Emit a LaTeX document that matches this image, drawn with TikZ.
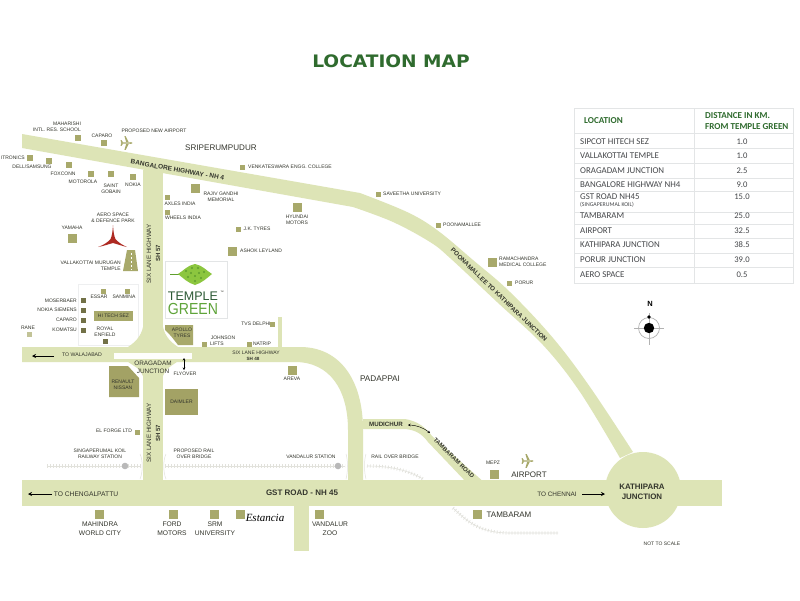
\documentclass[tikz,border=0pt]{standalone}
\usepackage{fontspec}
\setmainfont{Liberation Sans}
\newfontfamily\tblfont{Carlito}
\newfontfamily\estfont{Liberation Serif}
\newfontfamily\titlefont{DejaVu Sans}
\usetikzlibrary{arrows.meta}
\definecolor{roadc}{HTML}{DDE4B6}
\definecolor{sqc}{HTML}{A8A96B}
\definecolor{darkb}{HTML}{A3A265}
\definecolor{txt}{HTML}{33352C}
\definecolor{titleg}{HTML}{2F6B2E}
\definecolor{logod}{HTML}{2C5A35}
\definecolor{logol}{HTML}{5FA43A}
\definecolor{leafc}{HTML}{8CC63F}
\definecolor{leafd}{HTML}{5F9E2E}
\definecolor{railc}{HTML}{E2E2DC}
\definecolor{rowc}{HTML}{E3E5E6}
\definecolor{redc}{HTML}{AE2A22}
\definecolor{tbltxt}{HTML}{45474A}
\newcommand{\fs}[1]{\fontsize{#1}{#1}\selectfont}
\tikzset{
  lbl/.style={inner sep=0pt,text=txt,font=\fs{5},align=center},
  lbll/.style={lbl,anchor=west},
  lblr/.style={lbl,anchor=east},
  big/.style={inner sep=0pt,text=txt,font=\fs{8}},
  sq/.style={fill=sqc,draw=none,minimum size=5pt,inner sep=0pt},
  sqb/.style={fill=sqc,draw=none,minimum size=9pt,inner sep=0pt},
  rail/.style={draw=railc,line width=3.4pt,dash pattern=on 0.7pt off 2.3pt},
  railc2/.style={draw=railc,line width=0.6pt},
  railb/.style={draw=railc,line width=0.5pt},
  arrowk/.style={draw=black,line width=0.9pt,-{Stealth[length=4pt,width=4pt]}},
  dblarrow/.style={draw=black,line width=0.45pt,{Stealth[length=2.5pt,width=2.5pt]}-{Stealth[length=2.5pt,width=2.5pt]}},
  cell/.style={inner sep=0pt,text=tbltxt,font=\tblfont\fs{8.9},anchor=west},
  val/.style={inner sep=0pt,text=tbltxt,font=\tblfont\fs{8.6}},
  head/.style={inner sep=0pt,text=titleg,font=\tblfont\bfseries\fs{9.1},anchor=west},
  botlbl/.style={lbl,font=\fs{6.7},align=center},
}
\newcommand{\planeicon}[3]{% x y colour
  \begin{scope}[shift={(#1,#2)},scale=0.85]
    \fill[#3] (-7,-0.7) -- (5,-0.9) .. controls (7,-0.7) and (7,0.7) .. (5,0.9) -- (-7,0.7) -- cycle;
    \fill[#3] (-1,-1) -- (2,-1) -- (-1.5,-8) -- (-3,-8) -- cycle;
    \fill[#3] (-1,1) -- (2,1) -- (-1.5,8) -- (-3,8) -- cycle;
    \fill[#3] (-7,-0.5) -- (-4.5,-0.5) -- (-6.5,-3.5) -- (-7.5,-3.5) -- cycle;
    \fill[#3] (-7,0.5) -- (-4.5,0.5) -- (-6.5,3.5) -- (-7.5,3.5) -- cycle;
  \end{scope}}
\begin{document}
\begin{tikzpicture}[x=1pt,y=-1pt]
\useasboundingbox (0,0) rectangle (800,600);
\fill[white] (0,0) rectangle (800,600);

% title
\node[inner sep=0pt,text=titleg,font=\titlefont\bfseries\fs{17.2},xscale=1.08] (title) at (391,61.5) {LOCATION MAP};

% ---- rail lines
\foreach \st in {rail,railc2}{
  \draw[\st] (47,466) -- (141,466);
  \draw[\st] (165,466) -- (345,466);
  \draw[\st] (367,466) .. controls (390,466) and (408,470) .. (423,479);
  \draw[\st] (453,508) .. controls (468,522) and (480,533) .. (510,533) -- (558,533);
}
\draw[railb] (140,454) .. controls (143,460) and (143,472) .. (140,479);
\draw[railb] (166,454) .. controls (163,460) and (163,472) .. (166,479);
\draw[railb] (346,454) .. controls (348,460) and (348,472) .. (346,479);
\draw[railb] (366,454) .. controls (364,460) and (364,472) .. (366,479);

% ---- hi tech background
\fill[white,draw=rowc!60,line width=0.4pt] (78,284) rectangle (138,345);

% ---- roads
\fill[roadc] (22,134) -- (360,193)
  -- plot[smooth,tension=0.6] coordinates {(360,193) (407,212) (437,230) (473,260) (510,292) (553,338) (590,387) (633,452)}
  -- plot[smooth,tension=0.6] coordinates {(620,458) (580,392) (543,345) (497,302) (450,258) (430,242) (393,222) (353,207)}
  -- (22,148) -- cycle;
\fill[roadc] (143,170) rectangle (163,490);
% junction bulge and six lane road
\fill[roadc] (143,327) .. controls (141,337) and (134,343) .. (128,347) -- (22,347) -- (22,362) -- (128,362)
  .. controls (134,366) and (141,369) .. (143,376) -- (163,376)
  .. controls (165,369) and (171,366) .. (177,362) -- (295,362)
  .. controls (330,362) and (348,390) .. (348,430) -- (348,490) -- (363,490) -- (363,430)
  .. controls (363,380) and (340,347) .. (300,347) -- (178,347)
  .. controls (172,343) and (165,337) .. (163,327) -- cycle;
% small stub
\fill[roadc] (278,317) rectangle (282,348);
% GST road
\fill[roadc] (22,480) rectangle (722,506);
\fill[roadc] (294,500) rectangle (309,551);
\fill[roadc] (643,490) circle[radius=38];
% Tambaram road
\fill[roadc] (363,419) -- (405,419) .. controls (418,421) and (426,428) .. (432,436) -- (486,484) -- (468,484)
  -- (428,442) .. controls (422,434) and (416,430) .. (405,429) -- (363,429) -- cycle;
% flyover
\fill[white!96!roadc] (114,353) rectangle (192,359);

% ---- highway labels
\node[lbl,font=\bfseries\fs{6.5},rotate=-10] (bh) at (177.5,170) {BANGALORE HIGHWAY - NH 4};
\node[lbl,font=\bfseries\fs{6.3},rotate=-44] (pk) at (499,295) {POONAMALLEE TO KATHIPARA JUNCTION};
\node[lbl,font=\fs{6.3},rotate=90] (sl1) at (149,254) {SIX LANE HIGHWAY};
\node[lbl,font=\bfseries\fs{6},rotate=90] (sh1) at (158,253) {SH 57};
\node[lbl,font=\fs{6.3},rotate=90] (sl2) at (149,433) {SIX LANE HIGHWAY};
\node[lbl,font=\bfseries\fs{6},rotate=90] (sh2) at (158,433) {SH 57};
\node[lbl] (sl3) at (256,353) {SIX LANE HIGHWAY};
\node[lbl,font=\bfseries\fs{4.6}] (sh3) at (253,359) {SH 48};
\node[lbl,font=\fs{5.2}] (toW) at (82,355) {TO WALAJABAD};
\node[lbl,font=\fs{6.4},align=center] (ora) at (153,367.5) {ORAGADAM\\[1.2pt]JUNCTION};
\node[lbl,font=\fs{6.7}] (toC) at (86,494) {TO CHENGALPATTU};
\node[lbl,font=\bfseries\fs{8}] (gst) at (302,493) {GST ROAD - NH 45};
\node[lbl,font=\fs{6.4}] (toCh) at (557,494) {TO CHENNAI};
\node[lbl,font=\bfseries\fs{7.9},align=center] (kat) at (642,492) {KATHIPARA\\[2.5pt]JUNCTION};
\node[lbl,font=\bfseries\fs{6.2}] (mud) at (386,424) {MUDICHUR};
\node[lbl,font=\bfseries\fs{6},rotate=-44] (tam) at (454,458) {TAMBARAM ROAD};

% ---- arrows
\coordinate (a1s) at (54,356); \coordinate (a1e) at (32,356);
\draw[arrowk] (a1s) -- (a1e);
\coordinate (a2s) at (52,494); \coordinate (a2e) at (28,494);
\draw[arrowk] (a2s) -- (a2e);
\coordinate (a3s) at (582,494); \coordinate (a3e) at (605,494);
\draw[arrowk] (a3s) -- (a3e);
\coordinate (a4s) at (184,358); \coordinate (a4e) at (184,370);
\draw[dblarrow] (a4s) -- (a4e);
\coordinate (a5s) at (408,425); \coordinate (a5e) at (430,433);
\draw[dblarrow] (a5s) .. controls (416,425) and (424,428) .. (a5e);

% ---- top-left labels
\node[lbl] (l1) at (67,124) {MAHARISHI};
\node[lbl] (l2) at (57,130) {INTL. RES. SCHOOL};
\node[sq,minimum size=5.5pt] (s1) at (78,138) {};
\node[lbl] (l3) at (102,136) {CAPARO};
\node[sq,minimum size=5.5pt] (s2) at (104,143) {};
\node[lbl] (l4) at (154,131) {PROPOSED NEW AIRPORT};
\planeicon{127}{143}{sqc}
\node[big,font=\fs{8.1}] (sri) at (221,148) {SRIPERUMPUDUR};
\node[lblr] (l5) at (25,158) {ITRONICS};
\node[sq,minimum size=5.5pt] (s3) at (30,158) {};
\node[sq,minimum size=5.5pt] (s4) at (49,161) {};
\node[lbl] (l6) at (32,167) {DELL/SAMSUNG};
\node[sq,minimum size=5.5pt] (s5) at (69,165) {};
\node[lbl] (l7) at (63,174) {FOXCONN};
\node[sq,minimum size=5.5pt] (s6) at (91,174) {};
\node[lbl] (l8) at (83,182) {MOTOROLA};
\node[sq,minimum size=5.5pt] (s7) at (111,174) {};
\node[lbl,align=center] (l9) at (111,189) {SAINT\\[1pt]GOBAIN};
\node[sq,minimum size=5.5pt] (s8) at (133,177) {};
\node[lbl] (l10) at (133,185) {NOKIA};
\node[sq] (s9) at (242,167) {};
\node[lbll] (l11) at (248,167) {VENKATESWARA ENGG. COLLEGE};
\node[sqb] (s10) at (195,188) {};
\node[lbl,align=center] (l12) at (221,196.5) {RAJIV GANDHI\\[1.2pt]MEMORIAL};
\node[sq] (s11) at (167,197) {};
\node[lbl] (l13) at (180,204) {AXLES INDIA};
\node[sq] (s12) at (167,212) {};
\node[lbl] (l14) at (183,218) {WHEELS INDIA};
\node[sq] (s13) at (238,229) {};
\node[lbl] (l15) at (257,229) {J.K. TYRES};
\node[lbl,align=center] (l16) at (113,218) {AERO SPACE\\[1pt]\& DEFENCE PARK};
\node[lbl] (l17) at (72,228) {YAMAHA};
\node[sqb] (s14) at (72,238) {};

% red emblem
\fill[redc] (113,225) .. controls (113.5,232) and (114,236) .. (115.5,239) .. controls (118,242) and (122,245) .. (127,247) .. controls (122,246) and (117,244) .. (113,243) .. controls (109,244) and (104,246) .. (98,247) .. controls (104,245) and (108,242) .. (110.5,239) .. controls (112,236) and (112.5,232) .. (113,225) -- cycle;
% temple icon
\fill[sqc] (127,250) -- (135,250) -- (138,271) -- (123,271) -- cycle;
\draw[white,line width=0.7pt,dash pattern=on 2pt off 2pt] (131,253) -- (131,270);
\node[lbl,align=right,anchor=east] (l18) at (121,265.5) {VALLAKOTTAI MURUGAN\\[1pt]TEMPLE};

% hi tech
\node[sq] (s15) at (103,291) {};
\node[lbl] (l19) at (99,297) {ESSAR};
\node[sq] (s16) at (127,291) {};
\node[lbl] (l20) at (124,297) {SANMINA};
\node[lblr] (l21) at (77,301) {MOSERBAER};
\node[sq,fill=darkb!70!black] (s17) at (83,300) {};
\node[lblr] (l22) at (77,310) {NOKIA SIEMENS};
\node[sq,fill=darkb!70!black] (s18) at (83,310) {};
\node[lblr] (l23) at (77,320) {CAPARO};
\node[sq,fill=darkb!70!black] (s19) at (83,320) {};
\node[lblr] (l24) at (77,330) {KOMATSU};
\node[sq,fill=darkb!70!black] (s20) at (83,330) {};
\node[lbl] (l25) at (28,328) {RANE};
\node[sq,fill=sqc!70] (s21) at (29,334) {};
\node[fill=sqc,inner sep=0pt,minimum width=39pt,minimum height=10pt,text=txt,font=\fs{5}] (hit) at (113.5,316) {HI TECH SEZ};
\node[lbl,align=center] (l26) at (105,332) {ROYAL\\[1pt]ENFIELD};
\node[sq,fill=darkb!70!black] (s22) at (105,341) {};

% logo
\node[draw=rowc,line width=0.6pt,fill=white,minimum width=62pt,minimum height=57pt,inner sep=0pt] (logo) at (196,289.5) {};
\coordinate (stem) at (170,274);
\draw[leafd,line width=0.5pt] (stem) -- (186,274);
\fill[leafc] (178,274) .. controls (183,271) and (188,265) .. (195,264) .. controls (202,265) and (207,271) .. (212,274) .. controls (207,278) and (202,283) .. (195,285) .. controls (188,283) and (183,278) .. (178,274) -- cycle;
\foreach \p/\q in {186/271,192/268,198/268,204/272,188/277,195/276,201/278,195/281,191/273,199/273}{
  \fill[leafd] (\p,\q) circle[radius=1.1];
}
\node[inner sep=0pt,text=logod,font=\fs{12.5}] (tmp) at (193,296) {TEMPLE};
\node[inner sep=0pt,text=logol,font=\fs{16},xscale=0.88] (grn) at (193,308.5) {GREEN};
\node[inner sep=0pt,text=txt,font=\fs{3.5}] (tm) at (222,292) {™};

% middle labels
\fill[sqc] (165,325) -- (193,325) -- (193,345) -- (178,345) .. controls (174,340) and (170,334) .. (165,330) -- cycle;
\node[lbl,align=center] (apo) at (182,332.5) {APOLLO\\[1pt]TYRES};
\node[sqb] (s23) at (232,251) {};
\node[lbll] (l27) at (240,251) {ASHOK LEYLAND};
\node[lbl] (l28) at (256,324) {TVS DELPHI};
\node[sq] (s24) at (272,324) {};
\node[lbl] (l29) at (223,338) {JOHNSON};
\node[lbl] (l30) at (217,344) {LIFTS};
\node[sq] (s25) at (204,344) {};
\node[sq] (s26) at (249,344) {};
\node[lbl] (l31) at (262,344) {NATRIP};
\node[lbl] (l32) at (185,374) {FLYOVER};
\fill[darkb] (109,366) -- (128,366) -- (139,378) -- (139,397) -- (109,397) -- cycle;
\node[lbl,align=center] (ren) at (123,384.5) {RENAULT\\[1pt]NISSAN};
\node[fill=darkb,minimum width=33pt,minimum height=26pt,inner sep=0pt,text=txt,font=\fs{5}] (dai) at (181.5,402) {DAIMLER};
\node[lbl] (l33) at (114,431) {EL FORGE LTD};
\node[sq] (s27) at (137,432) {};
\node[lbl,align=center] (l34) at (100,453.5) {SINGAPERUMAL KOIL\\[1pt]RAILWAY STATION};
\fill[gray!55] (125,466) circle[radius=3.3];
\fill[gray!55] (338,466) circle[radius=3.3];
\node[lbl,align=center] (l35) at (194,454) {PROPOSED RAIL\\[1pt]OVER BRIDGE};
\node[lbl] (l36) at (311,457) {VANDALUR STATION};
\node[lbl] (l37) at (395,457) {RAIL OVER BRIDGE};

% bottom
\node[sqb] (s28) at (99,514) {};
\node[botlbl] (l38) at (100,528.5) {MAHINDRA\\[2pt]WORLD CITY};
\node[sqb] (s29) at (173,514) {};
\node[botlbl] (l39) at (172,528.5) {FORD\\[2pt]MOTORS};
\node[sqb] (s30) at (214,514) {};
\node[botlbl] (l40) at (215,528.5) {SRM\\[2pt]UNIVERSITY};
\node[sqb] (s31) at (240,514) {};
\node[inner sep=0pt,text=black,font=\estfont\itshape\fs{11}] (est) at (265,518) {Estancia};
\node[sqb] (s32) at (319,514) {};
\node[botlbl] (l41) at (330,528.5) {VANDALUR\\[2pt]ZOO};

% right labels
\node[sqb] (s33) at (292,370) {};
\node[lbl] (l42) at (292,379) {AREVA};
\node[big,font=\fs{8.2}] (pad) at (380,379) {PADAPPAI};
\node[sqb] (s34) at (297,207) {};
\node[lbl,align=center] (l43) at (297,219.5) {HYUNDAI\\[1pt]MOTORS};
\node[sq] (s35) at (378,194) {};
\node[lbll] (l44) at (383,194) {SAVEETHA UNIVERSITY};
\node[sq] (s36) at (438,225) {};
\node[lbll] (l45) at (443,225) {POONAMALLEE};
\node[sqb] (s37) at (492,262) {};
\node[lbll,align=left] (l46) at (499,261.5) {RAMACHANDRA\\[1.2pt]MEDICAL COLLEGE};
\node[sq] (s38) at (509,283) {};
\node[lbll] (l47) at (515,283) {PORUR};
\node[lbl] (l48) at (493,463) {MEPZ};
\node[sqb] (s39) at (494,474) {};
\planeicon{528}{461}{sqc}
\node[big] (air) at (529,475) {AIRPORT};
\node[sqb] (s40) at (477,514) {};
\node[big] (tbm) at (509,515) {TAMBARAM};
\node[lbl] (nts) at (662,544) {NOT TO SCALE};

% compass
\draw[gray!60,line width=0.7pt] (649,328) circle[radius=10.5];
\draw[gray!60,line width=0.6pt] (634,328) -- (664,328);
\draw[gray!60,line width=0.6pt] (649,313) -- (649,345);
\fill[black] (649,328) circle[radius=5.2];
\fill[black] (649,317) circle[radius=1.8];
\node[inner sep=0pt,text=black,font=\bfseries\fs{7.5}] (north) at (650,304) {N};

% table
\draw[rowc,line width=0.7pt] (574,108) rectangle (793,283);
\draw[rowc,line width=0.7pt] (694,108) -- (694,283);
\foreach \yy in {133,148,163,178,191,212,224,238,253,267}{
  \draw[rowc,line width=0.7pt] (574,\yy) -- (793,\yy);
}
\node[head] (t0) at (584,121) {LOCATION};
\node[head] (t00) at (705,116) {DISTANCE IN KM.};
\node[head] (t01) at (705,127) {FROM TEMPLE GREEN};
\node[cell] (t1) at (580,141.5) {SIPCOT HITECH SEZ};
\node[val] (v1) at (742,141.5) {1.0};
\node[cell] (t2) at (580,156) {VALLAKOTTAI TEMPLE};
\node[val] (v2) at (742,156) {1.0};
\node[cell] (t3) at (580,171) {ORAGADAM JUNCTION};
\node[val] (v3) at (742,171) {2.5};
\node[cell] (t4) at (580,185) {BANGALORE HIGHWAY NH4};
\node[val] (v4) at (742,185) {9.0};
\node[cell] (t5) at (580,196.5) {GST ROAD NH45};
\node[val] (v5) at (742,196.5) {15.0};
\node[cell,font=\tblfont\fs{5.8}] (t5b) at (580,205) {(SINGAPERUMAL KOIL)};
\node[cell] (t6) at (580,216) {TAMBARAM};
\node[val] (v6) at (742,216) {25.0};
\node[cell] (t7) at (580,230.5) {AIRPORT};
\node[val] (v7) at (742,230.5) {32.5};
\node[cell] (t8) at (580,245) {KATHIPARA JUNCTION};
\node[val] (v8) at (742,245) {38.5};
\node[cell] (t9) at (580,259.5) {PORUR JUNCTION};
\node[val] (v9) at (742,259.5) {39.0};
\node[cell] (t10) at (580,275) {AERO SPACE};
\node[val] (v10) at (742,275) {0.5};
\end{tikzpicture}
\end{document}
